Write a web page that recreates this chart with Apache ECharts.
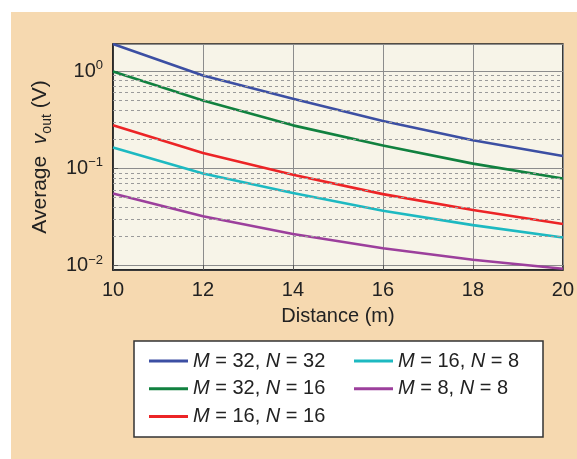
<!DOCTYPE html>
<html>
<head>
<meta charset="utf-8">
<script src="https://cdn.jsdelivr.net/npm/echarts@6/dist/echarts.min.js"></script>
<style>
html,body{margin:0;padding:0;background:#fff;}
#c{width:577px;height:459px;}
</style>
</head>
<body>
<div id="c"></div>
<script>
// ---- data ----
const distances = [10, 12, 14, 16, 18, 20];
const seriesNames = ['M32N32', 'M32N16', 'M16N16', 'M16N8', 'M8N8'];
const legendLabels = {
  M32N32: '{i|M} = 32, {i|N} = 32',
  M32N16: '{i|M} = 32, {i|N} = 16',
  M16N16: '{i|M} = 16, {i|N} = 16',
  M16N8: '{i|M} = 16, {i|N} = 8',
  M8N8: '{i|M} = 8, {i|N} = 8'
};
const vM32N32 = [1.90, 0.903, 0.521, 0.307, 0.195, 0.134];
const vM32N16 = [0.99, 0.500, 0.277, 0.172, 0.112, 0.0788];
const vM16N16 = [0.277, 0.144, 0.086, 0.0544, 0.0373, 0.0268];
const vM16N8 = [0.164, 0.0887, 0.0558, 0.0367, 0.0261, 0.0195];
const vM8N8 = [0.0553, 0.0323, 0.0212, 0.0151, 0.0115, 0.0093];
const xTickInterval = 2;
const yMinorGrid = [0.02, 0.03, 0.04, 0.05, 0.06, 0.07, 0.08, 0.09,
                    0.2, 0.3, 0.4, 0.5, 0.6, 0.7, 0.8, 0.9];

const seriesValues = {M32N32: vM32N32, M32N16: vM32N16, M16N16: vM16N16, M16N8: vM16N8, M8N8: vM8N8};
const colors = {M32N32: '#3c4fa3', M32N16: '#11813f', M16N16: '#ec2426', M16N8: '#1db9c1', M8N8: '#9c3f9c'};

const FONT = '"Liberation Sans", Arial, Helvetica, sans-serif';
const chart = echarts.init(document.getElementById('c'), null, {renderer: 'canvas'});

const lineSeries = seriesNames.map(n => ({
  name: n,
  type: 'line',
  data: distances.map((d, i) => [d, seriesValues[n][i]]),
  symbol: 'none',
  smooth: false,
  lineStyle: {width: 2.6, color: colors[n]},
  itemStyle: {color: colors[n]},
  z: 3
}));

const gridSeries = {
  name: '_minor',
  type: 'line',
  data: [],
  z: 1,
  silent: true,
  markLine: {
    silent: true,
    symbol: ['none', 'none'],
    label: {show: false},
    animation: false,
    lineStyle: {color: '#9a9a9a', type: [3, 3], width: 1},
    data: yMinorGrid.map(v => ({yAxis: v}))
  }
};

const legendText = {
  fontFamily: FONT, fontSize: 20, color: '#222',
  rich: {
    i: {fontFamily: FONT, fontSize: 20, fontStyle: 'italic', color: '#222', lineHeight: 20},
  },
  lineHeight: 20
};

function supLabel(v) {
  const l = Math.log10(v);
  const r = Math.round(l);
  if (Math.abs(l - r) > 1e-6) return '';
  const e = r < 0 ? '\u2212' + (-r) : String(r);
  return '{b|10}{sup|' + e + '}';
}

const option = {
  animation: false,
  backgroundColor: '#ffffff',
  textStyle: {fontFamily: FONT},
  graphic: [
    {type: 'rect', shape: {x: 11, y: 12, width: 566, height: 447}, style: {fill: '#f6d9b0'}, z: -10, silent: true},
    {type: 'rect', shape: {x: 134, y: 341, width: 409, height: 96}, style: {fill: '#ffffff', stroke: '#333', lineWidth: 1.5}, z: 0, silent: true}
  ],
  grid: {
    left: 113, top: 44, right: 13, bottom: 189,
    show: true, backgroundColor: '#f7f4e8', borderColor: '#1e1e1e', borderWidth: 1.5, z: 0
  },
  legend: [
    {
      orient: 'vertical', left: 149, top: 351, padding: 0, itemGap: 7.7,
      icon: 'rect', itemWidth: 39, itemHeight: 3,
      data: ['M32N32', 'M32N16', 'M16N16'],
      formatter: n => legendLabels[n],
      textStyle: legendText, selectedMode: false
    },
    {
      orient: 'vertical', left: 354, top: 351, padding: 0, itemGap: 7.7,
      icon: 'rect', itemWidth: 39, itemHeight: 3,
      data: ['M16N8', 'M8N8'],
      formatter: n => legendLabels[n],
      textStyle: legendText, selectedMode: false
    }
  ],
  xAxis: {
    type: 'value', min: 10, max: 20, interval: xTickInterval,
    name: 'Distance (m)', nameLocation: 'middle', nameGap: 36,
    nameTextStyle: {fontFamily: FONT, fontSize: 20, color: '#222'},
    axisLine: {show: true, lineStyle: {color: '#1e1e1e', width: 1.5}},
    axisTick: {show: true, inside: true, length: 5, lineStyle: {color: '#555'}},
    axisLabel: {fontFamily: FONT, fontSize: 20, color: '#222', margin: 10},
    splitLine: {show: true, lineStyle: {color: '#8c8c8c', width: 1}}
  },
  yAxis: {
    type: 'log', logBase: 10, min: 0.00903, max: 1.90,
    name: '{n|Average  }{v|v}{sub|out}{n| (V)}',
    nameLocation: 'middle', nameGap: 59, nameRotate: 90,
    nameTextStyle: {
      fontFamily: FONT, fontSize: 21, color: '#222',
      rich: {
        n: {fontFamily: FONT, fontSize: 21, color: '#222', lineHeight: 28},
        v: {fontFamily: FONT, fontSize: 21, fontStyle: 'italic', color: '#222', lineHeight: 28},
        sub: {fontFamily: FONT, fontSize: 14, color: '#222', lineHeight: 14, verticalAlign: 'bottom'}
      }
    },
    axisLine: {show: true, lineStyle: {color: '#1e1e1e', width: 1.5}},
    axisTick: {show: true, inside: true, length: 5, lineStyle: {color: '#555'}},
    axisLabel: {
      showMinLabel: false, showMaxLabel: false, margin: 10,
      formatter: supLabel,
      rich: {
        b: {fontFamily: FONT, fontSize: 20, color: '#222', lineHeight: 24},
        sup: {fontFamily: FONT, fontSize: 13, color: '#222', lineHeight: 13, verticalAlign: 'top'}
      }
    },
    splitLine: {show: true, lineStyle: {color: '#8c8c8c', width: 1}}
  },
  series: [gridSeries].concat(lineSeries)
};
chart.setOption(option);
</script>
</body>
</html>
